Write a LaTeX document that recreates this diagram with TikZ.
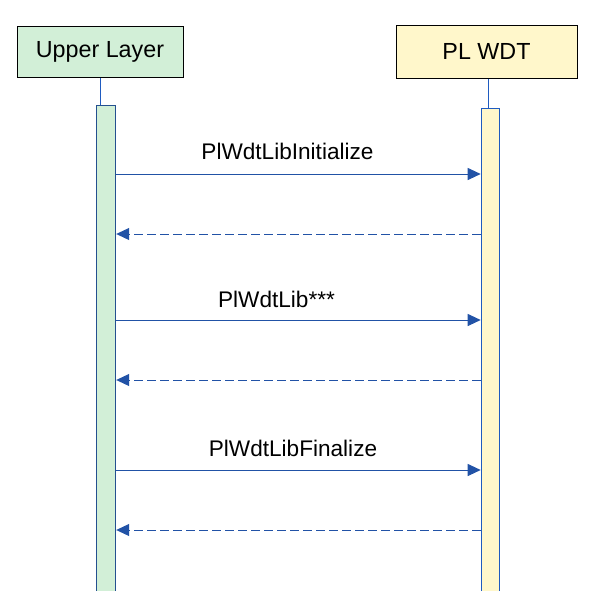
\documentclass[tikz,border=0pt]{standalone}
\usepackage{fontspec}
\setmainfont{Liberation Sans}
\usetikzlibrary{arrows.meta}
\definecolor{gfill}{HTML}{D2EFD7}
\definecolor{yfill}{HTML}{FFF7CB}
\definecolor{msgblue}{HTML}{2152A6}
\definecolor{lblue}{HTML}{1F5BC0}
\definecolor{dblue}{HTML}{24508F}
\tikzset{
  partbox/.style={draw=black, line width=1pt, inner sep=0pt, font=\fontsize{23.3}{27}\selectfont},
  actbar/.style={line width=1pt, inner sep=0pt, minimum width=19.5pt, minimum height=500pt, anchor=north west},
  lifeline/.style={draw=lblue, line width=1pt},
  call/.style={draw=msgblue, line width=1pt, -{Triangle[length=13pt,width=12pt]}},
  reply/.style={draw=msgblue, line width=1pt, dash pattern=on 9pt off 4pt, -{Triangle[length=13pt,width=12pt]}},
  msglabel/.style={anchor=base, inner sep=0pt, font=\fontsize{22.6}{26}\selectfont}
}
\begin{document}
\begin{tikzpicture}[x=1pt,y=-1pt]
\useasboundingbox (0,0) rectangle (595,590);
% participants
\node[partbox, fill=gfill, minimum width=166pt, minimum height=51pt] (ul) at (100,51.5) {Upper Layer};
\node[partbox, fill=yfill, minimum width=181pt, minimum height=53pt] (wdt) at (486.5,51.5) {PL WDT};
% activation bars
\node[actbar, draw=dblue, fill=gfill] (ubar) at (95.7,105) {};
\node[actbar, draw=lblue, fill=yfill, minimum width=18.6pt] (wbar) at (480.7,108) {};
% lifelines
\draw[lifeline] (ul.south) -- (ul.south |- ubar.north);
\coordinate (wl) at (488.3,78);
\draw[lifeline] (wdt.south -| wl) -- (wl |- wbar.north);
% message rows
\coordinate (m1) at (0,174);
\coordinate (r1) at (0,234);
\coordinate (m2) at (0,320);
\coordinate (r2) at (0,380);
\coordinate (m3) at (0,470);
\coordinate (r3) at (0,530);
\draw[call] (ubar.east |- m1) -- (wbar.west |- m1);
\draw[reply] (wbar.west |- r1) -- (ubar.east |- r1);
\draw[call] (ubar.east |- m2) -- (wbar.west |- m2);
\draw[reply] (wbar.west |- r2) -- (ubar.east |- r2);
\draw[call] (ubar.east |- m3) -- (wbar.west |- m3);
\draw[reply] (wbar.west |- r3) -- (ubar.east |- r3);
% labels
\node[msglabel] (l1) at (287.5,159) {PlWdtLibInitialize};
\node[msglabel] (l2) at (276.5,307) {PlWdtLib***};
\node[msglabel] (l3) at (293,456.5) {PlWdtLibFinalize};
\end{tikzpicture}
\end{document}
